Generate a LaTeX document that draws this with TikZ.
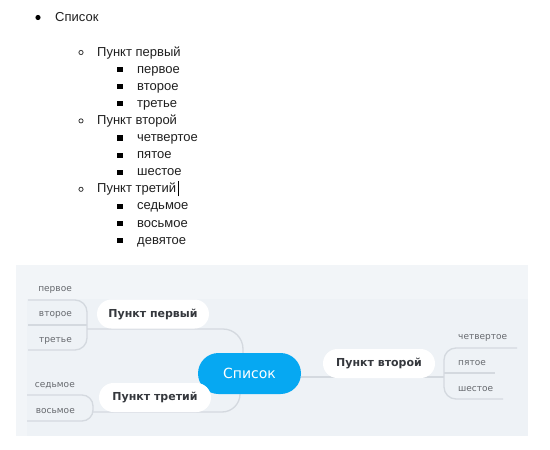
\documentclass[tikz,border=0pt]{standalone}
\usepackage{fontspec}
\setmainfont{Liberation Sans}
\newfontfamily\mmfont{DejaVu Sans}
\usetikzlibrary{backgrounds}
\definecolor{panelcol}{HTML}{EEF2F6}
\definecolor{panellight}{HTML}{F2F5F8}
\definecolor{conncol}{HTML}{D4D9DF}
\definecolor{rootcol}{HTML}{06A8F2}
\definecolor{subtext}{HTML}{35383D}
\definecolor{leaftext}{HTML}{66696E}
\begin{document}
\begin{tikzpicture}[x=1pt,y=-1pt,
  li/.style={anchor=base west, inner sep=0, font=\fontsize{13}{15}\selectfont, text=black!88},
  bulA/.style={fill=black, circle, inner sep=0, minimum size=5.2},
  bulB/.style={draw=black!80, line width=0.8, circle, inner sep=0, minimum size=4.2},
  bulC/.style={fill=black, rectangle, inner sep=0, minimum size=5.2},
  rootnode/.style={fill=rootcol, rounded corners=20.5, minimum width=103, minimum height=41, text=white, font=\mmfont\fontsize{14}{16}\selectfont, inner sep=0},
  subnode/.style={fill=white, rounded corners=14.5, minimum width=112, minimum height=29, text=subtext, font=\mmfont\bfseries\fontsize{11}{13}\selectfont, inner sep=0, text height=8.2, text depth=2.2},
  leafnode/.style={text=leaftext, font=\mmfont\fontsize{9}{11}\selectfont, inner sep=0, text height=6.8, text depth=1.8},
  link/.style={draw=conncol, line width=1.3}
]
\useasboundingbox (0,0) rectangle (550,450);

% ---------- top list ----------
\node[bulA] (b0) at (38,17.5) {};
\node[li] (t0) at (55,21) {Список};

\node[bulB] (b1) at (81,52.5) {};
\node[li] (t1) at (97,56) {Пункт первый};
\node[bulC] (b2) at (120,69.6) {};
\node[li] (t2) at (137,73.1) {первое};
\node[bulC] (b3) at (120,86.7) {};
\node[li] (t3) at (137,90.2) {второе};
\node[bulC] (b4) at (120,103.8) {};
\node[li] (t4) at (137,107.3) {третье};

\node[bulB] (b5) at (81,120.9) {};
\node[li] (t5) at (97,124.4) {Пункт второй};
\node[bulC] (b6) at (120,138) {};
\node[li] (t6) at (137,141.5) {четвертое};
\node[bulC] (b7) at (120,155.1) {};
\node[li] (t7) at (137,158.6) {пятое};
\node[bulC] (b8) at (120,172.2) {};
\node[li] (t8) at (137,175.7) {шестое};

\node[bulB] (b9) at (81,189.3) {};
\node[li] (t9) at (97,192.8) {Пункт третий};
\node[bulC] (b10) at (120,206.4) {};
\node[li] (t10) at (137,209.9) {седьмое};
\node[bulC] (b11) at (120,223.5) {};
\node[li] (t11) at (137,227) {восьмое};
\node[bulC] (b12) at (120,240.6) {};
\node[li] (t12) at (137,244.1) {девятое};

\draw[line width=0.9] ([xshift=2.5,yshift=-3.5]t9.base east) -- ([xshift=2.5,yshift=12]t9.base east);

% ---------- mind map ----------
\node[rootnode] (C) at (249.5,373.5) {Список};
\node[subnode] (P1) at (153,314) {Пункт первый};
\node[subnode] (P2) at (379,363.5) {Пункт второй};
\node[subnode] (P3) at (155,397.5) {Пункт третий};

\node[leafnode, anchor=east] (L1) at (72,289) {первое};
\node[leafnode, anchor=east] (L2) at (72,314) {второе};
\node[leafnode, anchor=east] (L3) at (72,339.5) {третье};
\node[leafnode, anchor=west] (L4) at (458,337) {четвертое};
\node[leafnode, anchor=west] (L5) at (458,363) {пятое};
\node[leafnode, anchor=west] (L6) at (458,388.5) {шестое};
\node[leafnode, anchor=east] (L7) at (75,385) {седьмое};
\node[leafnode, anchor=east] (L8) at (75,410.5) {восьмое};

\coordinate (cT) at (243,353);
\coordinate (cB) at (240,394);
\coordinate (f1) at (87,329);
\coordinate (f2) at (444,377);
\coordinate (f3) at (93,412);

\begin{pgfonlayer}{background}
  \fill[panelcol] (16,265) rectangle (528,436);
  \fill[panellight] (16,265) rectangle (528,299);
  \fill[panellight] (16,299) rectangle (27,436);
  % root to subtopics
  \draw[link, rounded corners=20] (cT) -- (cT |- f1) -- (f1);
  \draw[link, rounded corners=18] (cB) -- (cB |- f3) -- (f3);
  \draw[link] (C.east |- f2) -- (f2);
  % group 1
  \draw[link, rounded corners=12] (28,300) -- (f1 |- 0,300) -- (f1 |- 0,350) -- (28,350);
  \draw[link] (28,325) -- (f1 |- 0,325);
  % group 2
  \draw[link, rounded corners=12] (517,348) -- (f2 |- 0,348) -- (f2 |- 0,399) -- (503,399);
  \draw[link] (f2 |- 0,373) -- (495,373);
  % group 3
  \draw[link, rounded corners=11] (27,395) -- (f3 |- 0,395) -- (f3 |- 0,421) -- (27,421);
\end{pgfonlayer}
\end{tikzpicture}
\end{document}
